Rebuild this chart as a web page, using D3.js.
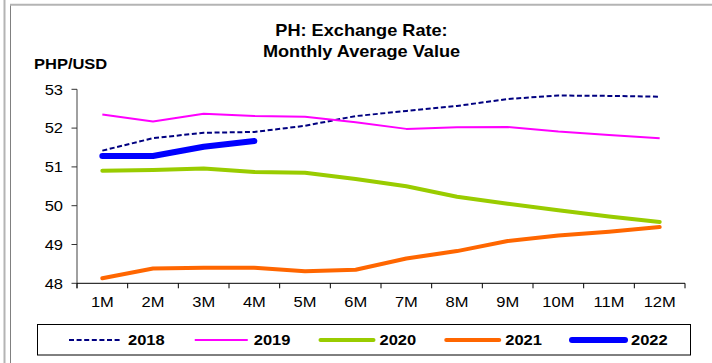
<!DOCTYPE html>
<html>
<head>
<meta charset="utf-8">
<script src="https://cdn.jsdelivr.net/npm/d3@7"></script>
<style>
  html, body { margin: 0; padding: 0; background: #fff; }
  svg { display: block; }
  text { font-family: "Liberation Sans", Arial, sans-serif; fill: #000; }
</style>
</head>
<body>
<svg id="chart" width="712" height="363"></svg>
<script>
// Monthly average PHP/USD exchange rate by year
const months = ["1M","2M","3M","4M","5M","6M","7M","8M","9M","10M","11M","12M"];
const yTicks = [48, 49, 50, 51, 52, 53];
const years = ["2018", "2019", "2020", "2021", "2022"];
const values2018 = [51.42, 51.74, 51.88, 51.90, 52.06, 52.31, 52.44, 52.57, 52.75, 52.84, 52.83, 52.81];
const values2019 = [52.35, 52.17, 52.37, 52.31, 52.29, 52.15, 51.98, 52.02, 52.03, 51.91, 51.82, 51.74];
const values2020 = [50.90, 50.92, 50.96, 50.87, 50.85, 50.69, 50.50, 50.23, 50.05, 49.88, 49.72, 49.58];
const values2021 = [48.13, 48.38, 48.40, 48.40, 48.31, 48.35, 48.64, 48.83, 49.09, 49.23, 49.33, 49.45];
const values2022 = [51.28, 51.28, 51.52, 51.67];

const seriesList = [
  { name: years[0], values: values2018, color: "#000080", width: 2,   dash: "5,2.6", cap: "butt" },
  { name: years[1], values: values2019, color: "#FF00FF", width: 2,   dash: null,    cap: "butt" },
  { name: years[2], values: values2020, color: "#99CC00", width: 4,   dash: null,    cap: "round" },
  { name: years[3], values: values2021, color: "#FF6600", width: 4,   dash: null,    cap: "round" },
  { name: years[4], values: values2022, color: "#0000FF", width: 6,   dash: null,    cap: "round" }
];

const svg = d3.select("#chart");
const SX = 1.1; // text is drawn slightly wide

function wideText(g, x, y, str, opts) {
  return g.append("text")
    .attr("transform", `translate(${x},${y}) scale(${SX},1)`)
    .attr("text-anchor", opts.anchor || "start")
    .attr("font-size", opts.size)
    .attr("font-weight", opts.weight || "normal")
    .text(str);
}

// outer frame
svg.append("line").attr("x1", 4.5).attr("x2", 4.5).attr("y1", 0).attr("y2", 363)
  .attr("stroke", "#b4b4b4").attr("stroke-width", 2);
svg.append("line").attr("x1", 10.5).attr("x2", 10.5).attr("y1", 4.5).attr("y2", 363)
  .attr("stroke", "#808080").attr("stroke-width", 1);
svg.append("line").attr("x1", 10).attr("x2", 712).attr("y1", 4.8).attr("y2", 4.8)
  .attr("stroke", "#b4b4b4").attr("stroke-width", 2);

// scales
const x = d3.scaleBand().domain(months).range([77, 685]).paddingInner(0).paddingOuter(0);
const cx = m => x(m) + x.bandwidth() / 2;
const y = d3.scaleLinear().domain([48, 53]).range([283.3, 89.3]);

// title
wideText(svg, 361.5, 36, "PH: Exchange Rate:", { anchor: "middle", size: 16.5, weight: "bold" });
wideText(svg, 361.5, 56.5, "Monthly Average Value", { anchor: "middle", size: 16.5, weight: "bold" });
wideText(svg, 34, 69, "PHP/USD", { size: 15, weight: "bold" });

// y axis
const yAxis = svg.append("g");
yAxis.append("line").attr("x1", 77).attr("x2", 77).attr("y1", y(53)).attr("y2", y(48) + 5)
  .attr("stroke", "#808080").attr("stroke-width", 1.5);
yTicks.forEach(t => {
  yAxis.append("line").attr("x1", 71.5).attr("x2", 77).attr("y1", y(t)).attr("y2", y(t))
    .attr("stroke", "#333").attr("stroke-width", 1);
  wideText(yAxis, 63, y(t) + 5.3, String(t), { anchor: "end", size: 15 });
});

// x axis
const xAxis = svg.append("g");
xAxis.append("line").attr("x1", 77).attr("x2", 685).attr("y1", y(48)).attr("y2", y(48))
  .attr("stroke", "#000").attr("stroke-width", 1);
const boundaries = months.map(m => x(m)).concat([x.range()[1]]);
boundaries.forEach(bx => {
  xAxis.append("line").attr("x1", bx).attr("x2", bx).attr("y1", y(48)).attr("y2", y(48) + 5)
    .attr("stroke", "#000").attr("stroke-width", 1);
});
months.forEach(m => {
  wideText(xAxis, cx(m), 307.3, m, { anchor: "middle", size: 15 });
});

// series lines
const line = d3.line().x((d, i) => cx(months[i])).y(d => y(d));
seriesList.forEach(s => {
  svg.append("path")
    .datum(s.values)
    .attr("d", line)
    .attr("fill", "none")
    .attr("stroke", s.color)
    .attr("stroke-width", s.width)
    .attr("stroke-linecap", s.cap)
    .attr("stroke-linejoin", "round")
    .attr("stroke-dasharray", s.dash);
});

// legend
const legend = svg.append("g");
legend.append("rect").attr("x", 37.5).attr("y", 324.5).attr("width", 653).attr("height", 30.5)
  .attr("fill", "#fff").attr("stroke", "#000").attr("stroke-width", 1);
const legendX = d3.scalePoint().domain(years).range([69, 572]);
seriesList.forEach(s => {
  const lx = legendX(s.name);
  legend.append("line").attr("x1", lx).attr("x2", lx + 53).attr("y1", 340).attr("y2", 340)
    .attr("stroke", s.color).attr("stroke-width", s.width)
    .attr("stroke-linecap", s.cap)
    .attr("stroke-dasharray", s.dash);
  wideText(legend, lx + 59, 345.3, s.name, { size: 15, weight: "bold" });
});
</script>
</body>
</html>
